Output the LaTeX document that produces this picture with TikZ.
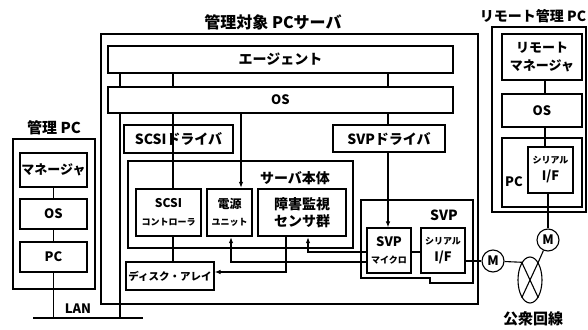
\documentclass[tikz,border=0pt]{standalone}
\usepackage{fontspec}
\setmainfont{Noto Sans CJK JP}
\usetikzlibrary{arrows.meta,shapes.geometric}
\newcommand\myfs[1]{\fontsize{#1}{#1}\selectfont}
\begin{document}
\begin{tikzpicture}[x=1pt,y=-1pt,
  bx/.style={draw, line width=1.1pt, inner sep=0pt, align=center, font=\bfseries\myfs{12}},
  tbx/.style={bx, line width=2.4pt},
  conn/.style={line width=1.1pt},
  arr/.style={conn, -{Latex[length=6pt,width=4.5pt]}},
  ttl/.style={inner sep=0pt, font=\bfseries\myfs{15}},
  modem/.style={circle, draw, line width=1.1pt, minimum size=22pt, inner sep=0pt, font=\bfseries\myfs{12}},
]
\useasboundingbox (0,0) rectangle (588,329);

% ---------- left: management PC ----------
\node[ttl] (ltitle) at (54,128) {管理 PC};
\node[bx, minimum width=82, minimum height=150] (lpcout) at (54,214) {};
\node[tbx, minimum width=67, minimum height=34] (lman) at (53.5,170) {\myfs{13}マネージャ};
\node[bx, minimum width=67, minimum height=30, font=\bfseries\myfs{13}] (los) at (53.5,214) {OS};
\node[bx, minimum width=67, minimum height=30, font=\bfseries\myfs{13}] (lpc) at (53.5,257) {PC};
\coordinate (lanL) at (33,318);
\coordinate (lanR) at (143,318);
\node[inner sep=0pt, font=\bfseries\myfs{13}] (lantext) at (78,309) {LAN};
\draw[conn] (lanL) -- (lanR);
\draw[conn] (lman) -- (los);
\draw[conn] (los) -- (lpc);
\draw[conn] (lpc.south) -- (lpc.south |- lanL);

% ---------- server ----------
\node[ttl, font=\bfseries\myfs{16}] (stitle) at (273,22) {管理対象 PCサーバ};
\node[bx, minimum width=377, minimum height=270] (srv) at (289.5,169) {};
\node[tbx, minimum width=345, minimum height=27, font=\bfseries\myfs{14}] (agent) at (280.5,59.5) {エージェント};
\node[bx, minimum width=345, minimum height=26, font=\bfseries\myfs{13}] (os) at (280.5,100) {OS};
\node[tbx, minimum width=109, minimum height=28, font=\bfseries\myfs{14}] (scsidrv) at (178.5,139) {SCSIドライバ};
\node[tbx, minimum width=112, minimum height=27, font=\bfseries\myfs{14}] (svpdrv) at (389,138.5) {SVPドライバ};
\node[bx, minimum width=225, minimum height=87] (body) at (240.5,204.5) {};
\node[ttl, font=\bfseries\myfs{14}] (bodylbl) at (295,178) {サーバ本体};
\node[bx, minimum width=65, minimum height=47] (scsictl) at (168.5,212.5) {SCSI\\[6pt]\myfs{9}コントローラ};
\node[tbx, minimum width=45, minimum height=47] (power) at (229.5,212.5) {\myfs{12}電源\\[5pt]\myfs{9}ユニット};
\node[tbx, minimum width=88, minimum height=47] (sensor) at (302,212.5) {\myfs{14}障害監視\\[3pt]\myfs{14}センサ群};
\node[bx, minimum width=88, minimum height=28] (disk) at (170,276) {\myfs{10.5}ディスク・アレイ};

% SVP
\draw[line width=2.4pt] (361,200) -- (473,200) -- (473,283) -- (430,283) -- (430,278) -- (361,278) -- cycle;
\node[ttl, font=\bfseries\myfs{14}] (svplbl) at (444,215) {SVP};
\node[bx, minimum width=44, minimum height=45] (micro) at (389,250.5) {\myfs{13}SVP\\[5pt]\myfs{9}マイクロ};
\node[bx, minimum width=44, minimum height=45] (sif) at (443,250.5) {\myfs{9}シリアル\\[5pt]\myfs{13}I/F};

% helper coordinates
\coordinate (x120) at (120,0);
\coordinate (x173) at (173,0);
\coordinate (x241) at (241,0);
\coordinate (x231) at (231,0);
\coordinate (x286) at (286,0);
\coordinate (x308) at (308,0);
\coordinate (x388) at (388,0);
\coordinate (y252) at (0,252);
\coordinate (y262) at (0,262);
\coordinate (y272) at (0,272);

\draw[conn] (agent.south -| x120) -- (os.north -| x120);
\draw[conn] (agent.south -| x173) -- (os.north -| x173);
\draw[conn] (agent.south -| x388) -- (os.north -| x388);
\draw[conn] (os.south -| x120) -- (lanR -| x120);
\draw[conn] (os.south -| x173) -- (scsidrv.south -| x173) ;
\draw[arr] (os.south -| x241) -- (power.north -| x241);
\draw[conn] (os.south -| x388) -- (svpdrv.north -| x388);
\draw[conn] (scsidrv.south -| x173) -- (scsictl.north -| x173);
\draw[conn] (scsictl.south -| x173) -- (disk.north -| x173);
\draw[arr] (sensor.south -| x286) |- (disk.east |- y272);
\draw[arr] (svpdrv.south -| x388) -- (micro.north -| x388);
\draw[arr] (micro.west |- y262) -| (power.south -| x231);
\draw[arr] (micro.west |- y252) -| (sensor.south -| x308);
\draw[conn] (micro.east |- y252) -- (sif.west |- y252);

% ---------- modems and public line ----------
\node[modem, font=\bfseries\myfs{13}] (m1) at (493,261) {M};
\node[modem, font=\bfseries\myfs{13}] (m2) at (548,240) {M};
\node[ellipse, draw, line width=1.1pt, minimum width=24, minimum height=46, inner sep=0pt] (pstn) at (530,280) {};
\node[ttl] (pstnlbl) at (533,319) {公衆回線};
\draw[conn] (sif.east |- m1) -- (m1.west);
\draw[conn] (m1) -- (pstn.115) -- (pstn.-65);
\draw[conn] (m2) -- (pstn.65) -- (pstn.-115);

% ---------- remote management PC ----------
\node[ttl, font=\bfseries\myfs{14}] (rtitle) at (533,16) {リモート管理 PC};
\node[bx, minimum width=94, minimum height=185] (rout) at (539,119.5) {};
\node[tbx, minimum width=80, minimum height=46, font=\bfseries\myfs{13}] (rman) at (542,57) {リモート\\[5pt]マネージャ};
\node[bx, minimum width=80, minimum height=33, font=\bfseries\myfs{13}] (ros) at (542,110.5) {OS};
\node[bx, minimum width=80, minimum height=69] (rpc) at (542,172.5) {};
\node[inner sep=0pt, font=\bfseries\myfs{13}] (rpclbl) at (514,182) {PC};
\node[bx, minimum width=45, minimum height=46] (rsif) at (550.5,170) {\myfs{9}シリアル\\[5pt]\myfs{13}I/F};
\coordinate (x545) at (545,0);
\draw[conn] (rman.south -| x545) -- (ros.north -| x545);
\draw[conn] (ros.south -| x545) -- (rsif.north -| x545);
\draw[conn] (rsif.south -| m2) -- (m2.north);
\end{tikzpicture}
\end{document}
